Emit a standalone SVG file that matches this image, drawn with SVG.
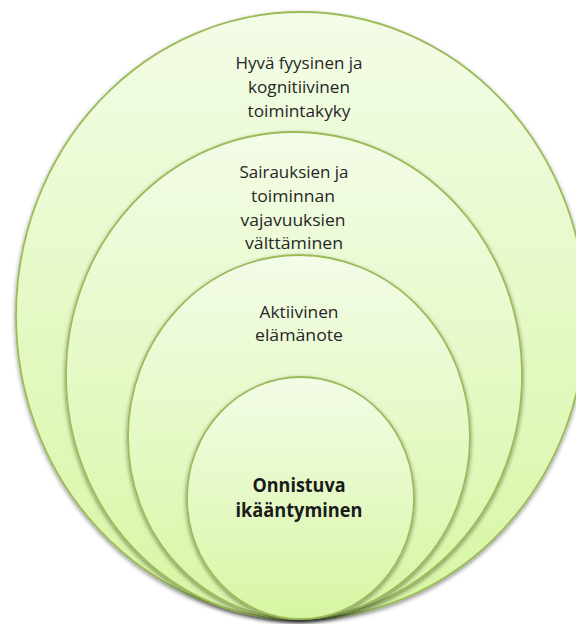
<svg xmlns="http://www.w3.org/2000/svg" width="576" height="624" viewBox="0 0 576 624">
<defs>
<linearGradient id="g" x1="0" y1="0" x2="0" y2="1">
<stop offset="0" stop-color="#f3fce7"/>
<stop offset="1" stop-color="#d7f6a3"/>
</linearGradient>
<filter id="sh" x="-10%" y="-10%" width="120%" height="125%">
<feDropShadow dx="0" dy="2" stdDeviation="2" flood-color="#000" flood-opacity="0.45"/>
</filter>
<style>
.c{fill:url(#g);stroke:#9bbb59;stroke-width:1.8;filter:url(#sh)}
.t{font-family:"Open Sans","Noto Sans",sans-serif;font-size:16.5px;fill:#262626;text-anchor:middle}
.b{font-family:"Open Sans","Noto Sans",sans-serif;font-size:19px;font-weight:bold;fill:#1a1a1a;text-anchor:middle}
</style>
</defs>
<rect width="576" height="624" fill="#ffffff"/>
<g id="connectors"/>
<g id="n1">
<ellipse class="c" cx="301" cy="315.5" rx="285" ry="303.5"/>
<text class="t" x="299" y="69" textLength="127" lengthAdjust="spacingAndGlyphs">Hyvä fyysinen ja</text>
<text class="t" x="299" y="93" textLength="102" lengthAdjust="spacingAndGlyphs">kognitiivinen</text>
<text class="t" x="299" y="117" textLength="103" lengthAdjust="spacingAndGlyphs">toimintakyky</text>
</g>
<g id="n2">
<ellipse class="c" cx="294" cy="375.5" rx="228" ry="243.5"/>
<text class="t" x="294" y="178" textLength="109" lengthAdjust="spacingAndGlyphs">Sairauksien ja</text>
<text class="t" x="293" y="202" textLength="84" lengthAdjust="spacingAndGlyphs">toiminnan</text>
<text class="t" x="293" y="226" textLength="105" lengthAdjust="spacingAndGlyphs">vajavuuksien</text>
<text class="t" x="294" y="249" textLength="98" lengthAdjust="spacingAndGlyphs">välttäminen</text>
</g>
<g id="n3">
<ellipse class="c" cx="299" cy="437" rx="171" ry="182"/>
<text class="t" x="299" y="318" textLength="79" lengthAdjust="spacingAndGlyphs">Aktiivinen</text>
<text class="t" x="299" y="341" textLength="88" lengthAdjust="spacingAndGlyphs">elämänote</text>
</g>
<g id="n4">
<ellipse class="c" cx="300.5" cy="498" rx="113.5" ry="121"/>
<text class="b" x="299" y="492" textLength="93" lengthAdjust="spacingAndGlyphs">Onnistuva</text>
<text class="b" x="299" y="517" textLength="127" lengthAdjust="spacingAndGlyphs">ikääntyminen</text>
</g>
</svg>
